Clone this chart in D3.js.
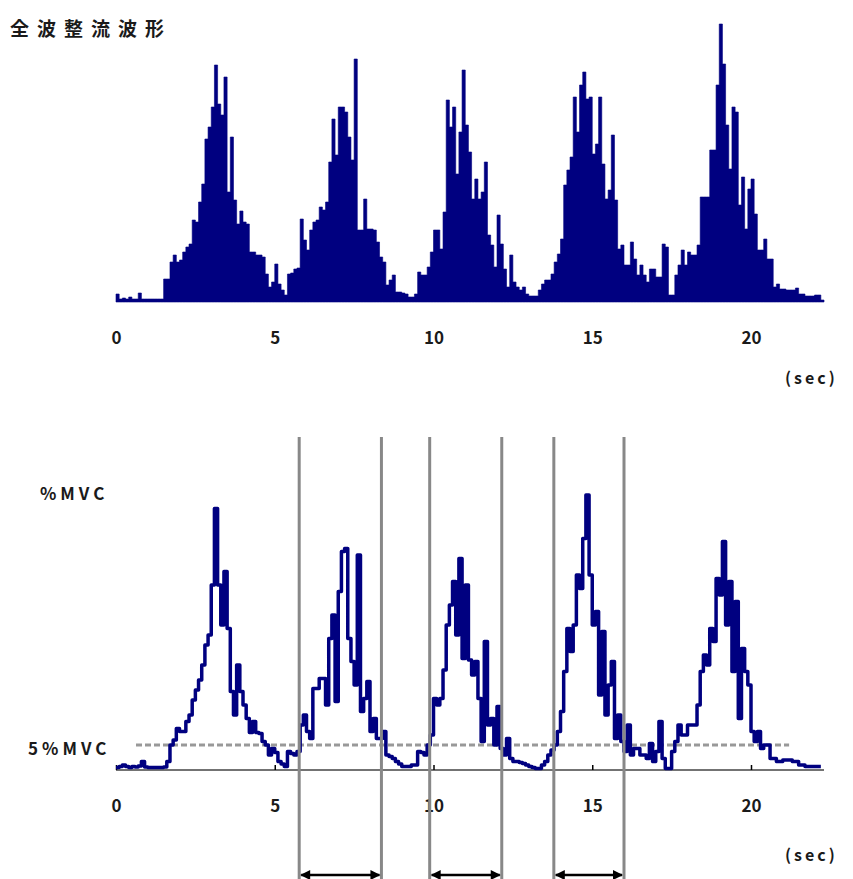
<!DOCTYPE html>
<html>
<head>
<meta charset="utf-8">
<script src="https://cdn.jsdelivr.net/npm/d3@7"></script>
<style>
  body { margin: 0; background: #fff; }
  text { font-family: "Noto Sans CJK JP", "Liberation Sans", sans-serif; font-weight: 700; fill: #1a1a1a; }
</style>
</head>
<body>
<div id="chart-container"></div>
<script>
// rectified EMG amplitude, one value per 0.1 s bin (arbitrary units)
const binSec = 0.1;
const rectAmp = [
  8,3,4,3,5,3,3,9,3,3,3,3,3,3,3,
  23,23,40,47,40,42,50,55,58,82,80,100,118,163,175,
  195,237,198,187,225,110,165,102,78,91,80,78,50,50,47,
  47,45,28,15,20,38,18,12,7,28,29,33,34,83,62,
  52,72,80,82,95,92,100,140,183,147,195,195,190,165,142,
  243,72,72,103,73,73,72,60,45,40,17,22,27,10,10,
  9,8,5,5,8,30,27,27,35,50,72,72,53,90,202,
  175,195,128,170,232,177,150,103,123,103,110,140,67,57,35,
  87,58,33,15,47,20,15,12,15,8,6,6,6,12,18,
  22,22,28,40,48,63,117,132,145,205,170,217,230,203,205,
  148,158,205,138,103,112,167,102,53,57,37,37,60,43,27,
  37,27,20,33,33,25,25,58,55,7,7,27,37,52,37,
  50,47,47,57,105,105,105,152,152,217,278,238,177,133,195,
  190,97,125,73,113,123,88,52,52,63,43,43,15,18,13,
  13,12,12,12,14,8,8,6,6,6,7,7,2
];

// normalised EMG (%MVC), one value per 0.1 s bin
const mvcPct = [
  0.5,0.7,1.0,0.7,0.5,0.7,0.6,0.8,1.7,0.6,0.5,0.5,0.5,0.5,0.5,
  0.6,1.7,5,6,8.3,7.7,7.7,9.7,11,14,16,18,21,25,27,
  37,52.3,37,29,39.7,28.3,15.7,11,21,15.7,13,10.3,7.5,9.7,7.5,
  7.3,5.7,5,3,4.3,3.5,1.7,1.2,0.7,3.7,3.3,3,3.7,9,11,
  7.7,6.3,16.3,16.3,18.3,18.3,13,26.3,31,13.7,35.7,43.7,44.3,26.3,21.7,
  17,43,11.7,14.3,17.7,7.7,10.3,6.3,6.3,7.7,3,2.7,2.3,1.7,1.2,
  0.7,0.7,0.7,1,1,3.7,3.5,3,5,7,14.3,13,14.3,20,29,
  33,37.7,27,42.3,22.3,37,22,19,21.7,14.3,5.7,25.7,9,10.3,5,
  12.7,4.3,3,6.3,2.3,1.7,1.7,1.5,1.3,1,0.7,0.5,0.3,0.3,1,
  1.7,3,4,5,7.7,11.7,19.7,28.3,23.7,29,39,36.3,46.3,55,39,
  29,31.7,15,27.7,11,17,21.7,6.3,11,5.7,3.7,9,3,4.3,4.3,
  3,3,2.3,5.3,1.7,3.7,9.7,2.3,0.3,0.3,3.7,5.7,9,7,7,
  9,9,9,13,19.7,23,21,28.3,25.7,38.3,35,45.7,29,37.7,19.7,
  33.7,10.3,24.3,19.7,17,7.7,5.7,7.7,4.3,5,5,2.3,2.3,1.7,1.7,
  2,2,2,1.7,1.7,1,1,0.7,0.7,0.7,0.7,0.7
];

const timeTicks = [0, 5, 10, 15, 20];
const timeEnd = 22.3;
const thresholdPct = 5;
const thresholdSpan = [0.63, 21.2];
// onset / offset times where %MVC crosses the 5% line
const crossTimes = [[5.77, 8.36], [9.88, 12.15], [13.79, 16.0]];

const W = 853, H = 879;
const navy = "#000080";

const svg = d3.select("#chart-container").append("svg")
  .attr("width", W).attr("height", H);

const x = d3.scaleLinear().domain([0, 20]).range([116, 751]);
const yTop = d3.scaleLinear().domain([0, 280]).range([302, 22]);
const yBot = d3.scaleLinear().domain([0, 60]).range([770, 470]);

const toPoints = (arr) => {
  const pts = arr.map((v, i) => [i * binSec, v]);
  pts.push([arr.length * binSec, arr[arr.length - 1]]);
  return pts;
};

// title
svg.append("text").attr("x", 10).attr("y", 36)
  .style("font-size", "19px").style("letter-spacing", "8px")
  .text("全波整流波形");

// top: rectified waveform
svg.append("path")
  .datum(toPoints(rectAmp))
  .attr("fill", navy)
  .attr("stroke", navy).attr("stroke-width", 0.6)
  .attr("d", d3.area().curve(d3.curveStepAfter)
    .x(d => x(d[0])).y0(yTop(0)).y1(d => yTop(d[1])));

const topAxis = svg.append("g")
  .attr("transform", `translate(0,${yTop(0)})`)
  .call(d3.axisBottom(x).tickValues(timeTicks).tickSize(0).tickPadding(30));
topAxis.select(".domain").remove();

svg.append("text").attr("x", 785).attr("y", 384)
  .style("font-size", "16px").style("letter-spacing", "3px")
  .text("(sec)");

// bottom: %MVC
svg.append("text").attr("x", 40).attr("y", 500)
  .style("font-size", "17px").style("letter-spacing", "4px")
  .text("%MVC");
svg.append("text").attr("x", 28).attr("y", 755)
  .style("font-size", "17px").style("letter-spacing", "4px")
  .text("5%MVC");

svg.append("line")
  .attr("x1", x(thresholdSpan[0])).attr("x2", x(thresholdSpan[1]))
  .attr("y1", yBot(thresholdPct)).attr("y2", yBot(thresholdPct))
  .attr("stroke", "#999").attr("stroke-width", 3)
  .attr("stroke-dasharray", "6,3");

svg.append("line")
  .attr("x1", x(0)).attr("x2", x(timeEnd))
  .attr("y1", yBot(0)).attr("y2", yBot(0))
  .attr("stroke", "#444").attr("stroke-width", 1.5);

const botAxis = svg.append("g")
  .attr("transform", `translate(0,${yBot(0)})`)
  .call(d3.axisBottom(x).tickValues(timeTicks).tickSize(-5).tickPadding(30));
botAxis.select(".domain").remove();
botAxis.selectAll(".tick line").attr("stroke", "#000").attr("stroke-width", 1.5);
botAxis.selectAll(".tick text").attr("y", 30);

svg.append("path")
  .datum(toPoints(mvcPct))
  .attr("fill", "none")
  .attr("stroke", navy).attr("stroke-width", 3.5)
  .attr("stroke-linejoin", "round")
  .attr("d", d3.line().curve(d3.curveStepAfter)
    .x(d => x(d[0])).y(d => yBot(d[1])));

// onset/offset markers
svg.append("g").selectAll("line")
  .data(crossTimes.flat())
  .join("line")
  .attr("x1", d => x(d)).attr("x2", d => x(d))
  .attr("y1", 437).attr("y2", H)
  .attr("stroke", "#888").attr("stroke-width", 3);

svg.append("text").attr("x", 785).attr("y", 861)
  .style("font-size", "16px").style("letter-spacing", "3px")
  .text("(sec)");

const defs = svg.append("defs");
defs.append("marker").attr("id", "ah")
  .attr("viewBox", "0 0 10 10").attr("refX", 9).attr("refY", 5)
  .attr("markerWidth", 5).attr("markerHeight", 4)
  .attr("orient", "auto-start-reverse")
  .append("path").attr("d", "M0,0L10,5L0,10Z").attr("fill", "#000");

svg.append("g").selectAll("line")
  .data(crossTimes)
  .join("line")
  .attr("x1", d => x(d[0]) + 2).attr("x2", d => x(d[1]) - 2)
  .attr("y1", 875).attr("y2", 875)
  .attr("stroke", "#000").attr("stroke-width", 2.5)
  .attr("marker-start", "url(#ah)").attr("marker-end", "url(#ah)");

svg.selectAll(".tick text").style("font-size", "17px").attr("fill", "#1a1a1a");
</script>
</body>
</html>
